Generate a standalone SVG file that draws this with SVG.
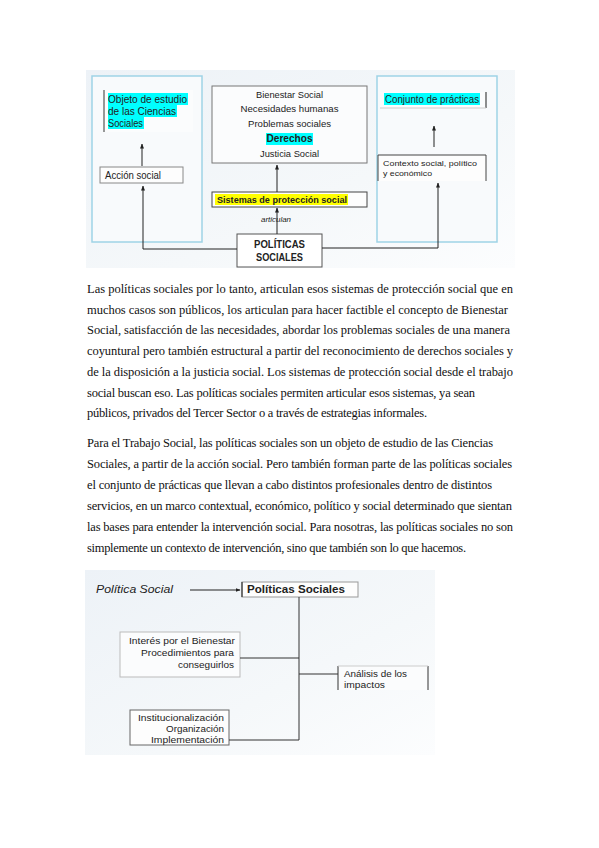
<svg xmlns="http://www.w3.org/2000/svg" width="599" height="848" viewBox="0 0 599 848">
<defs>
<linearGradient id="bg" x1="0" y1="0" x2="1" y2="1">
<stop offset="0" stop-color="#edf2f7"/>
<stop offset="0.6" stop-color="#f5f8fa"/>
<stop offset="1" stop-color="#fcfdfe"/>
</linearGradient>
<marker id="ah" viewBox="0 0 10 10" refX="9" refY="5" markerWidth="5" markerHeight="5" orient="auto">
<path d="M0,1 L10,5 L0,9 z" fill="#222"/>
</marker>
<style>
.dg{font-family:"Liberation Sans","Open Sans",sans-serif;fill:#222}
.p{font-family:"Liberation Serif","Times New Roman",serif;font-size:12.5px;fill:#111}
.ln{stroke:#333;stroke-width:1;fill:none}
.ar{stroke:#222;stroke-width:1;fill:none;marker-end:url(#ah)}
.panel{fill:#f8fafc;stroke:#9fd3e6;stroke-width:1.5}
.bx{fill:#fdfdfd;stroke:#888;stroke-width:1}
</style>
</defs>
<rect width="599" height="848" fill="#ffffff"/>

<!-- Top diagram -->
<rect x="86" y="70" width="429" height="198" fill="url(#bg)"/>
<g id="panel-left"><rect class="panel" x="92" y="76" width="110" height="166"/></g>
<g id="panel-right"><rect class="panel" x="377" y="76" width="120" height="166"/></g>

<g id="objeto">
<rect x="104" y="90" width="89" height="42" fill="#fbfcfd"/>
<line x1="104" y1="90" x2="104" y2="132" stroke="#555" stroke-width="1.2"/>
<rect x="108" y="93" width="80" height="12" fill="#00ffff"/>
<rect x="108" y="105" width="69" height="12" fill="#00ffff"/>
<rect x="108" y="117" width="36" height="12" fill="#00ffff"/>
<text class="dg" font-size="10" x="108" y="103" textLength="79" lengthAdjust="spacingAndGlyphs">Objeto de estudio</text>
<text class="dg" font-size="10" x="108" y="115" textLength="68" lengthAdjust="spacingAndGlyphs">de las Ciencias</text>
<text class="dg" font-size="10" x="108" y="127" textLength="35" lengthAdjust="spacingAndGlyphs">Sociales</text>
</g>

<g id="accion">
<rect class="bx" x="100" y="167" width="83" height="16" stroke="#777"/>
<text class="dg" font-size="10" x="105" y="179" textLength="56" lengthAdjust="spacingAndGlyphs">Acción social</text>
</g>

<g id="bienestar">
<rect x="212" y="86" width="155" height="77" fill="#fbfcfd" stroke="#777" stroke-width="1"/>
<rect x="266" y="133" width="47" height="12" fill="#00ffff"/>
<text class="dg" font-size="9.5" text-anchor="middle" x="289.5" y="98" textLength="67" lengthAdjust="spacingAndGlyphs">Bienestar Social</text>
<text class="dg" font-size="9.5" text-anchor="middle" x="289.5" y="112" textLength="98" lengthAdjust="spacingAndGlyphs">Necesidades humanas</text>
<text class="dg" font-size="9.5" text-anchor="middle" x="289.5" y="127" textLength="83" lengthAdjust="spacingAndGlyphs">Problemas sociales</text>
<text class="dg" font-size="11" font-weight="bold" text-anchor="middle" x="289.5" y="142" textLength="46" lengthAdjust="spacingAndGlyphs">Derechos</text>
<text class="dg" font-size="9.5" text-anchor="middle" x="289.5" y="157" textLength="59" lengthAdjust="spacingAndGlyphs">Justicia Social</text>
</g>

<g id="sistemas">
<rect x="212" y="192" width="155" height="15" fill="#fdfdfd" stroke="#444" stroke-width="1"/>
<rect x="215" y="194" width="133" height="11" fill="#ffff00"/>
<text class="dg" font-size="9.5" font-weight="bold" x="217" y="203" textLength="130" lengthAdjust="spacingAndGlyphs">Sistemas de protección social</text>
</g>

<g id="politicas">
<rect x="237" y="234" width="85" height="33" fill="#ffffff" stroke="#555" stroke-width="1"/>
<text class="dg" font-size="10.5" font-weight="bold" text-anchor="middle" x="279.5" y="248" textLength="51" lengthAdjust="spacingAndGlyphs">POLÍTICAS</text>
<text class="dg" font-size="10.5" font-weight="bold" text-anchor="middle" x="279.5" y="261" textLength="47" lengthAdjust="spacingAndGlyphs">SOCIALES</text>
</g>

<g id="conjunto">
<rect x="380" y="92" width="106" height="16" fill="#fbfcfd"/>
<line x1="486" y1="92" x2="486" y2="108" stroke="#444" stroke-width="1.2"/>
<line x1="380" y1="108" x2="486" y2="108" stroke="#ccc" stroke-width="1"/>
<rect x="384" y="93" width="96" height="12" fill="#00ffff"/>
<text class="dg" font-size="10" x="385" y="103" textLength="94" lengthAdjust="spacingAndGlyphs">Conjunto de prácticas</text>
</g>

<g id="contexto">
<rect x="378" y="155" width="108" height="26" fill="#fdfdfd"/>
<path d="M378,181 L378,155 L486,155 L486,181" fill="none" stroke="#444" stroke-width="1"/>
<text class="dg" font-size="8" x="383" y="166" textLength="94" lengthAdjust="spacingAndGlyphs">Contexto social, político</text>
<text class="dg" font-size="8" x="383" y="176" textLength="49" lengthAdjust="spacingAndGlyphs">y económico</text>
</g>

<g id="connectors-top">
<line class="ar" x1="142" y1="166" x2="142" y2="144"/>
<polyline class="ar" points="237,249 143,249 143,186" stroke="#666"/>
<line class="ar" x1="277" y1="234" x2="277" y2="208"/>
<line class="ar" x1="277" y1="192" x2="277" y2="165"/>
<line class="ar" x1="434" y1="147" x2="434" y2="126"/>
<polyline class="ar" points="322,248 438,248 438,183"/>
<text class="dg" font-size="7" font-style="italic" fill="#555" text-anchor="middle" x="276" y="222" textLength="30" lengthAdjust="spacingAndGlyphs">articulan</text>
</g>

<!-- Paragraph 1 -->
<g id="para1">
<text class="p" x="87" y="293" textLength="426" lengthAdjust="spacing">Las políticas sociales por lo tanto, articulan esos sistemas de protección social que en</text>
<text class="p" x="87" y="313.7" textLength="421" lengthAdjust="spacing">muchos casos son públicos, los articulan para hacer factible el concepto de Bienestar</text>
<text class="p" x="87" y="334.4" textLength="423" lengthAdjust="spacing">Social, satisfacción de las necesidades, abordar los problemas sociales de una manera</text>
<text class="p" x="87" y="355.1" textLength="426" lengthAdjust="spacing">coyuntural pero también estructural a partir del reconocimiento de derechos sociales y</text>
<text class="p" x="87" y="375.8" textLength="426" lengthAdjust="spacing">de la disposición a la justicia social. Los sistemas de protección social desde el trabajo</text>
<text class="p" x="87" y="396.5" textLength="388" lengthAdjust="spacing">social buscan eso. Las políticas sociales permiten articular esos sistemas, ya sean</text>
<text class="p" x="87" y="417.2" textLength="340" lengthAdjust="spacing">públicos, privados del Tercer Sector o a través de estrategias informales.</text>
</g>

<!-- Paragraph 2 -->
<g id="para2">
<text class="p" x="87" y="447" textLength="406" lengthAdjust="spacing">Para el Trabajo Social, las políticas sociales son un objeto de estudio de las Ciencias</text>
<text class="p" x="87" y="468" textLength="425" lengthAdjust="spacing">Sociales, a partir de la acción social. Pero también forman parte de las políticas sociales</text>
<text class="p" x="87" y="489" textLength="405" lengthAdjust="spacing">el conjunto de prácticas que llevan a cabo distintos profesionales dentro de distintos</text>
<text class="p" x="87" y="510" textLength="425" lengthAdjust="spacing">servicios, en un marco contextual, económico, político y social determinado que sientan</text>
<text class="p" x="87" y="531" textLength="426" lengthAdjust="spacing">las bases para entender la intervención social. Para nosotras, las políticas sociales no son</text>
<text class="p" x="87" y="552" textLength="379" lengthAdjust="spacing">simplemente un contexto de intervención, sino que también son lo que hacemos.</text>
</g>

<!-- Bottom diagram -->
<rect x="85" y="570" width="350" height="185" fill="url(#bg)"/>

<g id="politica-social">
<text class="dg" font-size="11" font-style="italic" x="96" y="593" textLength="77" lengthAdjust="spacingAndGlyphs">Política Social</text>
</g>

<g id="politicas-sociales">
<rect x="242" y="582" width="116" height="15" fill="#fdfdfd" stroke="#999" stroke-width="1"/>
<line x1="242" y1="582" x2="242" y2="597" stroke="#333" stroke-width="1.2"/>
<text class="dg" font-size="11" font-weight="bold" x="247" y="593" textLength="98" lengthAdjust="spacingAndGlyphs">Políticas Sociales</text>
</g>

<g id="interes">
<rect x="120" y="632" width="120" height="45" fill="#fbfcfd" stroke="#bbb" stroke-width="1"/>
<text class="dg" font-size="9" text-anchor="end" x="235" y="644" textLength="106" lengthAdjust="spacingAndGlyphs">Interés por el Bienestar</text>
<text class="dg" font-size="9" text-anchor="end" x="234" y="656" textLength="93" lengthAdjust="spacingAndGlyphs">Procedimientos para</text>
<text class="dg" font-size="9" text-anchor="end" x="234" y="668" textLength="56" lengthAdjust="spacingAndGlyphs">conseguirlos</text>
</g>

<g id="analisis">
<rect x="338" y="666" width="90" height="24" fill="#fbfcfd"/>
<line x1="338" y1="666" x2="338" y2="690" stroke="#333" stroke-width="1"/>
<line x1="428" y1="666" x2="428" y2="690" stroke="#333" stroke-width="1"/>
<line x1="338" y1="666" x2="428" y2="666" stroke="#ccc" stroke-width="1"/>
<text class="dg" font-size="9" x="344" y="677" textLength="63" lengthAdjust="spacingAndGlyphs">Análisis de los</text>
<text class="dg" font-size="9" x="344" y="688" textLength="41" lengthAdjust="spacingAndGlyphs">impactos</text>
</g>

<g id="institucionalizacion">
<rect x="130" y="710" width="99" height="35" fill="#fdfdfd" stroke="#666" stroke-width="1"/>
<text class="dg" font-size="9" text-anchor="end" x="224" y="721" textLength="86" lengthAdjust="spacingAndGlyphs">Institucionalización</text>
<text class="dg" font-size="9" text-anchor="end" x="224" y="732" textLength="58" lengthAdjust="spacingAndGlyphs">Organización</text>
<text class="dg" font-size="9" text-anchor="end" x="224" y="743" textLength="73" lengthAdjust="spacingAndGlyphs">Implementación</text>
</g>

<g id="connectors-bottom">
<line class="ar" x1="190" y1="590" x2="240" y2="590"/>
<line class="ln" x1="299" y1="597" x2="299" y2="740"/>
<line class="ln" x1="240" y1="658" x2="299" y2="658"/>
<line class="ln" x1="299" y1="674" x2="338" y2="674"/>
<line class="ln" x1="229" y1="740" x2="299" y2="740"/>
</g>
</svg>
